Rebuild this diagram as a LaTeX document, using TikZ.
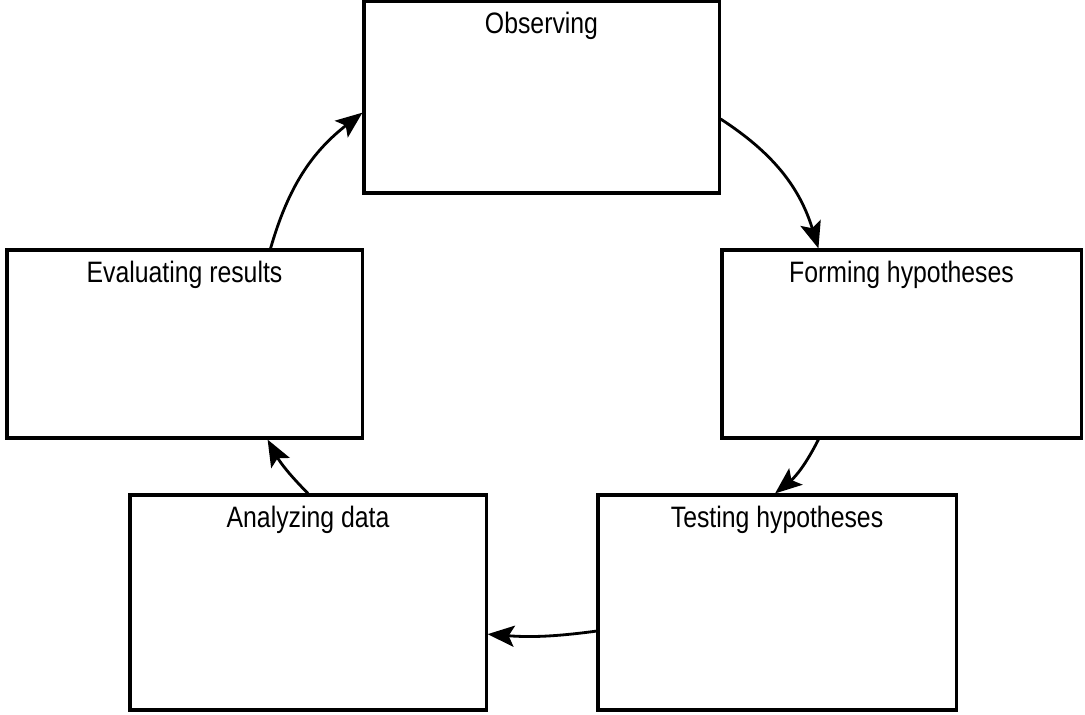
\documentclass[tikz,border=0pt]{standalone}
\usepackage{fontspec}
\setmainfont{Liberation Sans}[FakeStretch=0.84]
\usetikzlibrary{arrows.meta}

\tikzset{
  stagebox/.style={draw, line width=2.2pt, minimum width=#1, inner sep=0pt},
  stagetext/.style={anchor=north, inner sep=0pt, yshift=-0.3cm, font=\fontsize{21}{25}\selectfont},
  flow/.style={line width=2pt, -{Stealth[length=19pt, width=15pt, inset=4pt]}}
}

\begin{document}
\begin{tikzpicture}[x=0.025cm, y=-0.025cm]
    \useasboundingbox (0, 0) rectangle (1085, 715);

    \node[stagebox=8.875cm, minimum height=4.8cm,
      label={[stagetext]north:Observing}] (obs) at (541.5, 97) {};
    \node[stagebox=8.975cm, minimum height=4.7cm,
      label={[stagetext]north:Forming hypotheses}] (form) at (901.5, 344) {};
    \node[stagebox=8.95cm, minimum height=5.375cm,
      label={[stagetext]north:Testing hypotheses}] (test) at (777, 602.5) {};
    \node[stagebox=8.9cm, minimum height=5.375cm,
      label={[stagetext]north:Analyzing data}] (anal) at (308, 602.5) {};
    \node[stagebox=8.875cm, minimum height=4.7cm,
      label={[stagetext]north:Evaluating results}] (eval) at (184.5, 344) {};

    \draw[flow] (obs.-7) to[bend left=20] (form.131);
    \draw[flow] (form.229) to[bend left=12] (test.91);
    \draw[flow] (test.189) to[bend left=6] (anal.-10.6);
    \draw[flow] (anal.north) to[bend left=8] (eval.-49);
    \draw[flow] (eval.48) to[bend left=18] (obs.185);
  \end{tikzpicture}
\end{document}
